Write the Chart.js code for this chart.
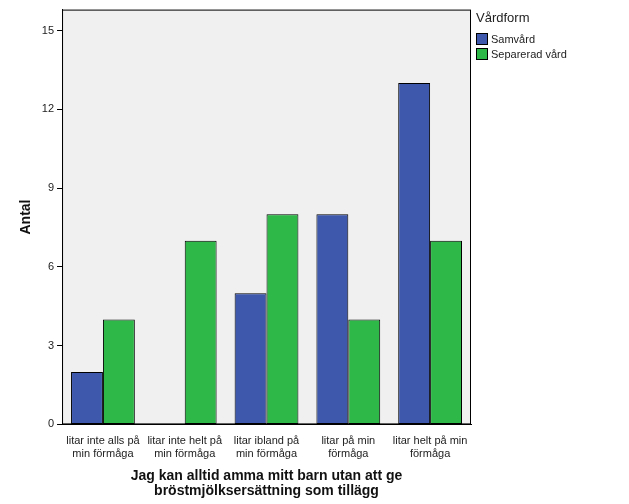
<!DOCTYPE html>
<html><head><meta charset="utf-8">
<script src="https://cdn.jsdelivr.net/npm/chart.js@4"></script>
<style>
body{margin:0;background:#fff;font-family:Arial,"Liberation Sans",sans-serif}
#wrap{position:relative;width:629px;height:504px}
#legend{position:absolute;left:476px;top:10px;font-size:12px;color:#222}
#legend .t{font-size:13px;margin-bottom:6px}
#legend .i{display:flex;align-items:center;height:15px;font-size:11px}
#legend .s{width:10px;height:10px;border:1px solid #000;margin-right:3px}
</style></head><body>
<div id="wrap"><canvas id="c" width="629" height="504"></canvas><div id="legend"></div></div>
<script>
const categories=[["litar inte alls på","min förmåga"],["litar inte helt på","min förmåga"],["litar ibland på","min förmåga"],["litar på min","förmåga"],["litar helt på min","förmåga"]];
const seriesNames=["Samvård","Separerad vård"];
const samvard=[2,0,5,8,13];
const separerad=[4,7,8,4,7];
const yTicks=[0,3,6,9,12,15];
const colors=["#3e58ac","#2eb848"];
const legendTitle="Vårdform";

const lg=document.getElementById('legend');
lg.innerHTML='<div class="t">'+legendTitle+'</div>'+seriesNames.map((n,i)=>'<div class="i"><div class="s" style="background:'+colors[i]+'"></div>'+n+'</div>').join('');

const bg={id:'bg',beforeDraw(ch){const a=ch.chartArea,c=ch.ctx;c.save();c.fillStyle='#f0f0f0';c.fillRect(a.left,a.top,a.right-a.left,a.bottom-a.top);c.strokeStyle='#000';c.lineWidth=1;c.strokeRect(a.left+0.5,a.top+0.5,a.right-a.left-1,a.bottom-a.top-1);c.restore();}};
new Chart(document.getElementById('c'),{type:'bar',
data:{labels:categories,datasets:[
{label:seriesNames[0],data:samvard,backgroundColor:colors[0],borderColor:'#000',borderWidth:1,borderSkipped:false},
{label:seriesNames[1],data:separerad,backgroundColor:colors[1],borderColor:'#000',borderWidth:1,borderSkipped:false}]},
options:{responsive:false,animation:false,
layout:{padding:{left:14,right:158,top:8,bottom:0}},
plugins:{legend:{display:false},tooltip:{enabled:false}},
datasets:{bar:{categoryPercentage:0.78,barPercentage:1}},
scales:{
x:{grid:{display:false,drawTicks:true},border:{color:'#000'},ticks:{color:'#222',font:{size:11,family:'Arial',lineHeight:1.1},maxRotation:0,autoSkip:false},
 title:{display:true,text:["Jag kan alltid amma mitt barn utan att ge","bröstmjölksersättning som tillägg"],color:'#111',font:{size:14,weight:'bold',family:'Arial',lineHeight:1.05},padding:{top:6,bottom:6}}},
y:{min:0,max:15.8,afterBuildTicks(s){s.ticks=yTicks.map(v=>({value:v}));},
 grid:{display:true,drawOnChartArea:false,color:'#000',tickLength:5},border:{color:'#000'},
 ticks:{color:'#222',font:{size:11,family:'Arial'}},
 title:{display:true,text:"Antal",color:'#111',font:{size:14,weight:'bold',family:'Arial'}}}}},
plugins:[bg]});
</script></body></html>
